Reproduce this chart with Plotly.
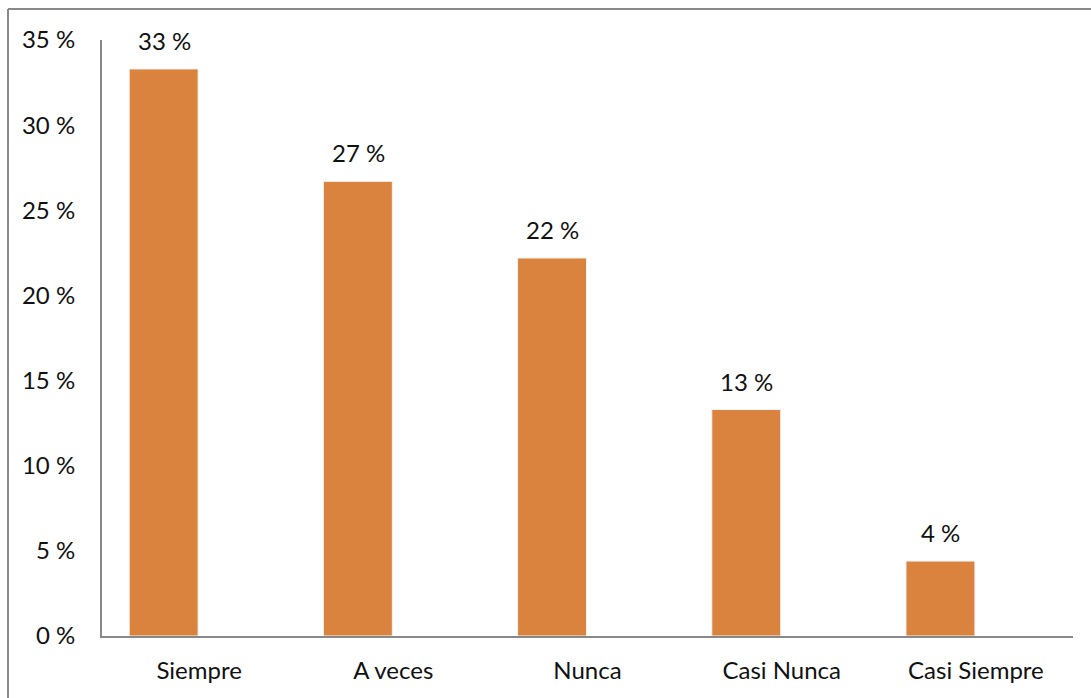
import plotly.graph_objects as go

# Survey response shares (percent)
categories = ["Siempre", "A veces", "Nunca", "Casi Nunca", "Casi Siempre"]
shares = [33.3, 26.7, 22.2, 13.3, 4.4]
y_ticks = [0, 5, 10, 15, 20, 25, 30, 35]

bar_color = "#D9833F"
axis_color = "#898989"
text_color = "#111111"
font_family = "Lato, 'Open Sans', sans-serif"
font_size = 24

fig = go.Figure()
fig.add_trace(go.Bar(
    x=categories,
    y=shares,
    width=0.355,
    offset=-0.36,
    marker=dict(color=bar_color, line=dict(color="#F4F4F4", width=1)),
    hoverinfo="skip",
))

# Value labels above each bar
for cat, val in zip(categories, shares):
    fig.add_annotation(
        x=cat, y=val, xref="x", yref="y",
        text=f"{round(val)} %",
        showarrow=False, yanchor="bottom",
        xshift=-35, yshift=12,
        font=dict(family=font_family, size=font_size, color=text_color),
    )

# Chart frame (top and left edges)
fig.add_shape(type="line", xref="paper", yref="paper",
              x0=-94 / 971, x1=1.2, y0=1 + 31 / 596, y1=1 + 31 / 596,
              line=dict(color=axis_color, width=2))
fig.add_shape(type="line", xref="paper", yref="paper",
              x0=-94 / 971, x1=-94 / 971, y0=-0.2, y1=1 + 31 / 596,
              line=dict(color=axis_color, width=2))

fig.update_layout(
    width=1091, height=698,
    margin=dict(l=102, r=18, t=40, b=62),
    paper_bgcolor="white", plot_bgcolor="white",
    showlegend=False,
    font=dict(family=font_family, size=font_size, color=text_color),
    xaxis=dict(
        type="category",
        range=[-0.5, 4.5],
        showline=True, linecolor=axis_color, linewidth=2,
        showgrid=False, ticks="", ticklabelstandoff=12,
        tickfont=dict(family=font_family, size=font_size, color=text_color),
    ),
    yaxis=dict(
        range=[0, 35],
        tickvals=y_ticks,
        ticktext=[f"{t} %" for t in y_ticks],
        showline=True, linecolor=axis_color, linewidth=2,
        showgrid=False, zeroline=False, ticks="", ticklabelstandoff=20,
        tickfont=dict(family=font_family, size=font_size, color=text_color),
    ),
)

fig.write_html("out.html")
